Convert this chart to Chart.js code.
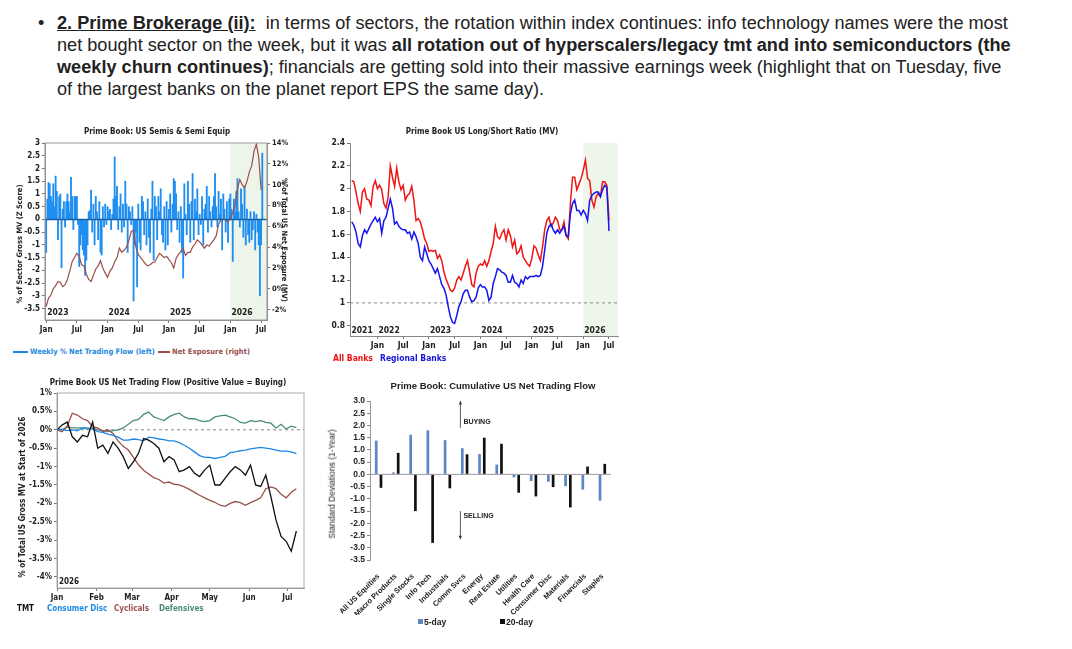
<!DOCTYPE html>
<html><head><meta charset="utf-8">
<script src="https://cdn.jsdelivr.net/npm/chart.js@4.4.1/dist/chart.umd.min.js"></script>
<style>
body{margin:0;background:#fff;width:1072px;height:649px;position:relative;overflow:hidden;font-family:'Liberation Sans',Arial,sans-serif;}
.para{position:absolute;left:38px;top:12px;font-size:18.15px;line-height:22px;color:#222;white-space:nowrap;}
.bullet{position:absolute;left:0;top:0;}
.txt{position:absolute;left:19px;top:0;}
canvas{position:absolute;display:block;}
.t{position:absolute;white-space:nowrap;line-height:1;font-family:'Liberation Sans Narrow','DejaVu Sans Condensed',Roboto,sans-serif;font-weight:bold;color:#222;font-size:8px;}
.ctr{transform:translate(-50%,-50%);}
.rl{transform:translate(-50%,-50%) rotate(-90deg);}
.rr{transform:translate(-50%,-50%) rotate(90deg);}
.lm{transform:translateY(-50%);}
.ln{position:absolute;height:2px;}
.sq{position:absolute;width:5px;height:5px;}
.ar{font-family:'Liberation Sans',Arial,sans-serif;}
</style>
</head><body>

<div class="para"><span class="bullet">•</span><div class="txt"><b><u>2. Prime Brokerage (ii):</u></b>&nbsp; in terms of sectors, the rotation within index continues: info technology names were the most<br>net bought sector on the week, but it was <b>all rotation out of hyperscalers/legacy tmt and into semiconductors (the<br>weekly churn continues)</b>; financials are getting sold into their massive earnings week (highlight that on Tuesday, five<br>of the largest banks on the planet report EPS the same day).</div></div>

<!-- chart 1 -->
<canvas id="c1" width="300" height="205" style="left:0;top:135px"></canvas>
<div class="t ctr" style="left:157px;top:132px">Prime Book: US Semis &amp; Semi Equip</div>
<div class="t rl" style="left:20px;top:244px;font-size:7.5px">% of Sector Gross MV (Z Score)</div>
<div class="t rr" style="left:284px;top:240px;font-size:7.5px">% of Total US Net Exposure (MV)</div>
<div class="ln" style="left:13px;top:351px;width:15px;background:#1e88e5"></div>
<div class="t lm" style="left:30px;top:352px;color:#1e88e5;font-size:7.5px">Weekly % Net Trading Flow (left)</div>
<div class="ln" style="left:158px;top:351px;width:12px;background:#9b4f4a"></div>
<div class="t lm" style="left:172px;top:352px;color:#9b4f4a;font-size:7.5px">Net Exposure (right)</div>

<!-- chart 2 -->
<canvas id="c2" width="300" height="220" style="left:320px;top:135px"></canvas>
<div class="t ctr" style="left:482px;top:132px">Prime Book US Long/Short Ratio (MV)</div>
<div class="t lm" style="left:333px;top:358px;color:#ee1111;font-size:8.5px">All Banks</div>
<div class="t lm" style="left:380px;top:358px;color:#1515dd;font-size:8.5px">Regional Banks</div>

<!-- chart 3 -->
<canvas id="c3" width="310" height="220" style="left:0;top:385px"></canvas>
<div class="t ctr" style="left:168px;top:383px">Prime Book US Net Trading Flow (Positive Value = Buying)</div>
<div class="t rl" style="left:23px;top:497px">% of Total US Gross MV at Start of 2026</div>
<div class="t lm" style="left:17px;top:609px;color:#111">TMT</div>
<div class="t lm" style="left:47px;top:609px;color:#1e88e5">Consumer Disc</div>
<div class="t lm" style="left:114px;top:609px;color:#9b4f4a">Cyclicals</div>
<div class="t lm" style="left:159px;top:609px;color:#4a8c7a">Defensives</div>

<!-- chart 4 -->
<canvas id="c4" width="300" height="222" style="left:320px;top:393px"></canvas>
<div class="t ctr ar" style="left:493px;top:386px;font-size:9.5px">Prime Book: Cumulative US Net Trading Flow</div>
<div class="t rl ar" style="left:332px;top:484px;font-size:8.5px;font-weight:normal">Standard Deviations (1-Year)</div>
<div class="sq" style="left:418px;top:619px;background:#5b87c5"></div>
<div class="t lm ar" style="left:424px;top:622px;font-size:8.5px">5-day</div>
<div class="sq" style="left:500px;top:619px;background:#111"></div>
<div class="t lm ar" style="left:506px;top:622px;font-size:8.5px">20-day</div>

<script>
// ---------- DATA ----------
// Chart 1: weekly, week 0 = first week of Jan 2023
const semiFlow = [
-1.3,0.8,1.45,1.4,0.9,0.7,1.4,0.5,1.7,1.1,-0.8,0.9,1.0,
-1.9,0.4,0.7,-0.3,0.7,1.0,0.7,0.3,1.65,0.9,-0.4,0.9,0.9,
0.9,-0.2,-1.85,-1.0,-0.6,-1.2,-1.4,-2.2,-1.6,-1.0,0.3,0.35,1.15,
-0.5,0.6,-1.0,0.9,0.3,-0.8,0.7,-1.3,-1.4,0.5,-0.3,0.6,-0.2,
0.5,0.3,0.4,-0.4,0.2,0.8,2.45,0.9,1.3,-0.4,0.5,1.0,-0.5,
0.6,-0.3,1.5,0.6,-1.3,0.5,0.3,-0.2,0.5,-3.2,-1.0,-0.5,-2.65,
0.6,-0.9,-1.2,0.9,0.7,-0.6,0.3,-1.0,0.8,-0.7,-1.3,0.4,1.5,
-1.6,0.9,0.5,-0.8,0.9,0.3,1.2,-0.6,-0.9,0.5,-1.2,0.7,-1.0,
0.4,1.0,-0.5,0.6,1.6,1.5,1.0,-0.4,0.3,-0.9,0.5,-1.3,-2.3,
1.4,0.2,-0.6,1.5,0.6,-0.9,0.7,1.8,-0.8,0.8,0.3,1.2,-0.6,
0.2,-0.2,0.9,-1.0,0.4,0.6,1.3,-0.5,0.9,0.3,-0.3,0.5,0.9,
1.8,0.5,-0.3,1.1,0.2,0.8,-1.2,1.0,0.4,-0.5,0.7,-0.9,0.8,
1.0,0.4,-1.65,0.8,0.3,1.1,1.6,0.3,-0.3,1.2,0.6,-0.7,1.3,
-1.0,0.4,-0.6,-0.9,0.3,-0.8,-0.4,0.3,-1.2,0.2,-0.5,-1.0,-3.0,-1.0,2.6];
// every 2 weeks
const semiExposure = [
-1.7,-0.9,-0.6,0.0,0.3,0.7,0.6,0.2,0.4,0.9,
1.7,2.6,3.0,3.4,3.1,2.3,2.2,1.4,0.9,0.7,
1.3,1.9,2.2,2.7,2.0,1.5,1.1,1.7,2.0,2.6,
3.0,3.9,3.5,3.7,4.0,4.6,5.5,5.6,4.0,3.3,
3.0,2.7,2.4,2.2,2.3,2.5,2.6,3.0,3.4,3.2,
3.0,3.1,2.8,2.5,2.0,2.9,3.3,3.6,3.9,3.2,
3.5,3.5,4.0,4.3,4.7,4.5,4.2,3.9,4.2,4.1,
4.4,4.7,5.1,6.2,6.6,6.7,6.6,6.4,6.8,7.3,
8.0,9.6,10.5,10.0,9.7,10.3,11.2,11.8,13.2,13.9,
12.6,9.5];
const c1TickWeeks = [0,26,52,78,104,130,156,182];
const c1TickLabels = ['Jan','Jul','Jan','Jul','Jan','Jul','Jan','Jul'];
const c1Years = ['2023','2024','2025','2026'];
const c1YearWeeks = [0,52,104,156];
const c1LeftTicks = [3,2.5,2,1.5,1,0.5,0,-0.5,-1,-1.5,-2,-2.5,-3,-3.5];
const c1RightTicks = [14,12,10,8,6,4,2,0,-2];

// Chart 2: half-month steps starting month 6 (Jul 2021), month 0 = Jan 2021
const allBanks = [
2.07,2.06,1.97,1.87,1.80,1.97,2.00,1.91,1.90,1.85,
2.02,2.07,2.00,2.03,1.99,1.87,1.83,1.93,2.20,2.10,
2.02,2.18,2.06,1.99,2.03,1.90,1.94,1.96,2.02,1.90,
1.72,1.74,1.71,1.64,1.56,1.52,1.45,1.46,1.45,1.46,
1.39,1.42,1.37,1.27,1.21,1.16,1.11,1.10,1.13,1.20,
1.23,1.20,1.26,1.32,1.37,1.27,1.16,1.14,1.26,1.32,
1.34,1.33,1.37,1.32,1.37,1.45,1.52,1.67,1.58,1.56,
1.61,1.64,1.55,1.64,1.59,1.49,1.55,1.43,1.45,1.50,
1.40,1.37,1.34,1.32,1.39,1.50,1.48,1.42,1.37,1.49,
1.64,1.72,1.75,1.67,1.70,1.75,1.72,1.64,1.64,1.71,
1.59,1.56,1.87,2.10,2.10,1.99,2.04,2.09,2.16,2.25,
2.09,2.07,1.90,1.84,1.93,1.96,1.93,2.06,2.06,2.03,
1.72];
const regionalBanks = [
1.71,1.68,1.62,1.52,1.49,1.59,1.64,1.61,1.65,1.69,
1.72,1.75,1.71,1.74,1.61,1.72,1.75,1.83,1.91,1.83,
1.69,1.71,1.67,1.65,1.64,1.64,1.61,1.62,1.56,1.62,
1.58,1.52,1.40,1.37,1.49,1.43,1.37,1.34,1.30,1.26,
1.30,1.23,1.16,1.13,1.07,0.97,0.88,0.83,0.82,0.89,
0.97,1.01,1.08,1.11,1.11,1.05,1.01,1.02,1.05,1.13,
1.16,1.14,1.14,1.11,1.02,1.05,1.17,1.23,1.30,1.29,
1.27,1.26,1.24,1.18,1.18,1.24,1.18,1.17,1.14,1.20,
1.17,1.23,1.21,1.23,1.23,1.23,1.24,1.23,1.24,1.32,
1.46,1.61,1.67,1.69,1.64,1.61,1.64,1.61,1.64,1.67,
1.59,1.58,1.78,1.87,1.90,1.81,1.81,1.77,1.81,1.78,
1.72,1.90,1.94,1.96,1.97,1.97,1.93,1.99,2.03,2.01,
1.63];
const c2TickMonths = [12,18,24,30,36,42,48,54,60,66];
const c2TickLabels = ['Jan','Jul','Jan','Jul','Jan','Jul','Jan','Jul','Jan','Jul'];
const c2Years = ['2021','2022','2023','2024','2025','2026'];
const c2YearMonths = [5.7,12,24,36,48,60];
const c2YTicks = [2.4,2.2,2,1.8,1.6,1.4,1.2,1,0.8];

// Chart 3: every 4 days from Jan 1 2026
const tmt = [0.0,0.13,0.21,-0.19,-0.33,-0.15,-0.19,0.21,-0.5,-0.42,
-0.64,-0.33,-0.5,-0.73,-1.05,-0.87,-0.64,-0.24,-0.28,-0.37,
-0.5,-0.87,-0.73,-0.82,-1.14,-1.09,-1.0,-1.18,-1.27,-1.09,
-0.96,-1.5,-1.5,-1.32,-1.14,-1.0,-1.09,-1.23,-0.96,-1.5,
-1.54,-1.23,-1.82,-2.45,-2.9,-3.03,-3.3,-2.75];
const consumerDisc = [0.0,0.02,-0.02,0.0,-0.03,0.05,0.05,0.02,-0.05,-0.07,
-0.12,-0.15,-0.2,-0.28,-0.28,-0.25,-0.27,-0.3,-0.2,-0.22,
-0.25,-0.27,-0.3,-0.3,-0.35,-0.42,-0.5,-0.6,-0.7,-0.75,
-0.75,-0.78,-0.75,-0.72,-0.62,-0.6,-0.57,-0.55,-0.52,-0.5,
-0.48,-0.5,-0.52,-0.55,-0.58,-0.58,-0.6,-0.65];
const cyclicals = [0.0,-0.05,0.1,0.45,0.4,0.3,0.25,0.08,0.05,-0.05,
0.0,-0.1,-0.3,-0.45,-0.55,-0.75,-0.95,-1.1,-1.2,-1.3,
-1.35,-1.45,-1.42,-1.48,-1.5,-1.55,-1.62,-1.7,-1.78,-1.85,
-1.92,-1.97,-2.05,-2.08,-2.0,-1.95,-1.98,-2.05,-1.98,-1.92,
-1.85,-1.6,-1.55,-1.6,-1.75,-1.85,-1.7,-1.6];
const defensives = [0.0,0.0,0.08,0.05,0.05,0.05,0.02,0.05,0.0,-0.02,
-0.05,-0.02,0.0,0.05,0.15,0.25,0.28,0.42,0.48,0.35,
0.3,0.25,0.35,0.42,0.45,0.35,0.3,0.3,0.25,0.22,
0.25,0.35,0.38,0.4,0.35,0.3,0.2,0.18,0.25,0.22,
0.25,0.2,0.18,0.05,0.15,0.02,0.1,0.06];
const c3TickDays = [0,31,59,90,120,151,181];
const c3TickLabels = ['Jan','Feb','Mar','Apr','May','Jun','Jul'];
const c3YTicks = [1,0.5,0,-0.5,-1,-1.5,-2,-2.5,-3,-3.5,-4];

// Chart 4
const sectors = ['All US Equities','Macro Products','Single Stocks','Info Tech','Industrials','Comm Svcs','Energy','Real Estate','Utilities','Health Care','Consumer Disc','Materials','Financials','Staples'];
const fiveDay = [1.38,0.08,1.62,1.8,1.4,1.07,0.83,0.4,-0.12,-0.27,-0.3,-0.48,-0.62,-1.07];
const twentyDay = [-0.55,0.88,-1.5,-2.8,-0.57,0.82,1.5,1.25,-0.75,-0.9,-0.52,-1.35,0.32,0.43];
const c4YTicks = [3,2.5,2,1.5,1,0.5,0,-0.5,-1,-1.5,-2,-2.5,-3,-3.5];

// ---------- SETUP ----------
Chart.defaults.animation = false;
Chart.defaults.plugins.legend.display = false;
Chart.defaults.plugins.tooltip.enabled = false;
Chart.defaults.color = '#222';
const NARROW = "'Liberation Sans Narrow','DejaVu Sans Condensed',Roboto,sans-serif";
const ARIAL = "'Liberation Sans',Arial,sans-serif";
const nf = s => ({family:NARROW, size:s, weight:'bold'});
const tg = {drawOnChartArea:false, drawTicks:true, tickLength:3, color:'#777', offset:false};
const bd = {display:true, color:'#888'};

// Chart 1
new Chart(document.getElementById('c1'), {
  type:'bar',
  data:{datasets:[
    {type:'line', data:semiExposure.map((v,i)=>({x:i*2,y:v})), yAxisID:'yR', borderColor:'#9b4f4a', borderWidth:1.2, pointRadius:0, order:0},
    {type:'bar', data:semiFlow.map((v,i)=>({x:i,y:v})), yAxisID:'yL', backgroundColor:'#1f8ef1', barThickness:1.2, order:1}
  ]},
  options:{
    responsive:false,
    layout:{padding:{top:8,left:0,right:0,bottom:0}},
    scales:{
      x:{type:'linear', min:-1, max:187, offset:false, grid:tg, border:bd,
         afterBuildTicks:s=>{s.ticks=c1TickWeeks.map(v=>({value:v}));},
         ticks:{callback:(v,i)=>c1TickLabels[i], autoSkip:false, maxRotation:0, font:nf(8), padding:2},
         afterFit:s=>{s.height=20;}},
      yL:{position:'left', min:-3.95, max:3, grid:tg, border:bd,
         afterBuildTicks:s=>{s.ticks=c1LeftTicks.map(v=>({value:v}));},
         ticks:{callback:v=>String(v), autoSkip:false, font:nf(8), padding:2},
         afterFit:s=>{s.width=45;}},
      yR:{position:'right', min:-3, max:14, grid:tg, border:bd,
         afterBuildTicks:s=>{s.ticks=c1RightTicks.map(v=>({value:v}));},
         ticks:{callback:v=>v+'%', autoSkip:false, font:nf(7.5), padding:2},
         afterFit:s=>{s.width=33;}}
    }
  },
  plugins:[{id:'c1p',
    beforeDatasetsDraw(c){const {ctx,chartArea:a,scales:{x}}=c; const x0=x.getPixelForValue(156);
      ctx.save(); ctx.fillStyle='#edf5ea'; ctx.fillRect(x0,a.top,a.right-x0,a.bottom-a.top); ctx.restore();},
    afterDatasetsDraw(c){const {ctx,chartArea:a,scales:{x,yL}}=c;
      ctx.save();
      const y0=yL.getPixelForValue(0); ctx.strokeStyle='#1a5fa8'; ctx.lineWidth=1.5;
      ctx.beginPath(); ctx.moveTo(a.left,y0); ctx.lineTo(a.right,y0); ctx.stroke();
      ctx.strokeStyle='#999'; ctx.lineWidth=1; ctx.strokeRect(a.left,a.top,a.right-a.left,a.bottom-a.top);
      ctx.fillStyle='#222'; ctx.font='bold 8.5px '+NARROW; ctx.textBaseline='middle'; ctx.textAlign='left';
      c1Years.forEach((t,i)=>ctx.fillText(t, x.getPixelForValue(c1YearWeeks[i])+1, a.bottom-7));
      ctx.restore();}
  }]
});

// Chart 2
new Chart(document.getElementById('c2'), {
  type:'line',
  data:{datasets:[
    {data:regionalBanks.map((v,i)=>({x:6+i*0.5,y:v})), borderColor:'#1515ee', borderWidth:1.5, pointRadius:0},
    {data:allBanks.map((v,i)=>({x:6+i*0.5,y:v})), borderColor:'#f01515', borderWidth:1.5, pointRadius:0}
  ]},
  options:{
    responsive:false,
    layout:{padding:{top:8,left:0,right:2,bottom:0}},
    scales:{
      x:{type:'linear', min:5.6, max:68.1, grid:tg, border:bd,
         afterBuildTicks:s=>{s.ticks=c2TickMonths.map(v=>({value:v}));},
         ticks:{callback:(v,i)=>c2TickLabels[i], autoSkip:false, maxRotation:0, font:nf(8.5), padding:2},
         afterFit:s=>{s.height=19;}},
      y:{min:0.71, max:2.4, grid:tg, border:bd,
         afterBuildTicks:s=>{s.ticks=c2YTicks.map(v=>({value:v}));},
         ticks:{callback:v=>String(v), autoSkip:false, font:nf(8.5), padding:2},
         afterFit:s=>{s.width=30;}}
    }
  },
  plugins:[{id:'c2p',
    beforeDatasetsDraw(c){const {ctx,chartArea:a,scales:{x,y}}=c; const x0=x.getPixelForValue(60);
      ctx.save(); ctx.fillStyle='#eef6ec'; ctx.fillRect(x0,a.top,a.right-x0,a.bottom-a.top);
      const y1=y.getPixelForValue(1); ctx.strokeStyle='#888'; ctx.setLineDash([3,3]); ctx.lineWidth=1;
      ctx.beginPath(); ctx.moveTo(a.left,y1); ctx.lineTo(a.right,y1); ctx.stroke(); ctx.restore();},
    afterDatasetsDraw(c){const {ctx,chartArea:a,scales:{x}}=c;
      ctx.save(); ctx.fillStyle='#222'; ctx.font='bold 8.5px '+NARROW; ctx.textBaseline='middle'; ctx.textAlign='left';
      c2Years.forEach((t,i)=>ctx.fillText(t, x.getPixelForValue(c2YearMonths[i])+1, a.bottom-5)); ctx.restore();}
  }]
});

// Chart 3
const c3set = (arr,col)=>({data:arr.map((v,i)=>({x:i*4,y:v})), borderColor:col, borderWidth:1.3, pointRadius:0});
new Chart(document.getElementById('c3'), {
  type:'line',
  data:{datasets:[
    c3set(tmt,'#111'), c3set(consumerDisc,'#1e88e5'), c3set(cyclicals,'#9b4f4a'), c3set(defensives,'#4a8c7a')
  ]},
  options:{
    responsive:false,
    layout:{padding:{top:8,left:0,right:6,bottom:0}},
    scales:{
      x:{type:'linear', min:0, max:194, grid:tg, border:bd,
         afterBuildTicks:s=>{s.ticks=c3TickDays.map(v=>({value:v}));},
         ticks:{callback:(v,i)=>c3TickLabels[i], autoSkip:false, maxRotation:0, font:nf(8), padding:2},
         afterFit:s=>{s.height=17;}},
      y:{min:-4.3, max:1, grid:tg, border:bd,
         afterBuildTicks:s=>{s.ticks=c3YTicks.map(v=>({value:v}));},
         ticks:{callback:v=>v+'%', autoSkip:false, font:nf(8), padding:2},
         afterFit:s=>{s.width=57;}}
    }
  },
  plugins:[{id:'c3p',
    beforeDatasetsDraw(c){const {ctx,chartArea:a,scales:{y}}=c; const y0=y.getPixelForValue(0);
      ctx.save(); ctx.strokeStyle='#888'; ctx.setLineDash([3,3]); ctx.lineWidth=1;
      ctx.beginPath(); ctx.moveTo(a.left,y0); ctx.lineTo(a.right,y0); ctx.stroke(); ctx.restore();},
    afterDatasetsDraw(c){const {ctx,chartArea:a}=c;
      ctx.save(); ctx.strokeStyle='#aaa'; ctx.lineWidth=1; ctx.strokeRect(a.left,a.top,a.right-a.left,a.bottom-a.top);
      ctx.fillStyle='#222'; ctx.font='bold 8px '+NARROW; ctx.textBaseline='middle'; ctx.textAlign='left';
      ctx.fillText('2026', a.left+2, a.bottom-6); ctx.restore();}
  }]
});

// Chart 4
new Chart(document.getElementById('c4'), {
  type:'bar',
  data:{labels:sectors, datasets:[
    {label:'5-day', data:fiveDay, backgroundColor:'#5b87c5', barPercentage:0.57, categoryPercentage:0.55},
    {label:'20-day', data:twentyDay, backgroundColor:'#111', barPercentage:0.57, categoryPercentage:0.55}
  ]},
  options:{
    responsive:false,
    layout:{padding:{top:8,left:0,right:9,bottom:0}},
    scales:{
      x:{grid:{display:false}, border:{display:false},
         ticks:{minRotation:45, maxRotation:45, autoSkip:false, font:{family:ARIAL,size:7.5,weight:'bold'}, padding:4},
         afterFit:s=>{s.height=55;}},
      y:{min:-3.5, max:3, grid:{drawOnChartArea:false, drawTicks:true, tickLength:3, color:'#888'}, border:{display:true,color:'#999'},
         afterBuildTicks:s=>{s.ticks=c4YTicks.map(v=>({value:v}));},
         ticks:{autoSkip:false, callback:v=>v.toFixed(1), font:{family:ARIAL,size:8.5,weight:'bold'}, padding:2},
         afterFit:s=>{s.width=50;}}
    }
  },
  plugins:[{id:'c4p',
    afterDatasetsDraw(c){const {ctx,chartArea:a,scales:{x,y}}=c;
      ctx.save();
      const y0=y.getPixelForValue(0); ctx.strokeStyle='#999'; ctx.lineWidth=1;
      ctx.beginPath(); ctx.moveTo(a.left,y0); ctx.lineTo(a.right,y0); ctx.stroke();
      const ax=x.getPixelForValue(4)+(x.getPixelForValue(5)-x.getPixelForValue(4))*0.75;
      const arrow=(yFrom,yTo)=>{const p1=y.getPixelForValue(yFrom),p2=y.getPixelForValue(yTo);
        ctx.strokeStyle='#333'; ctx.fillStyle='#333'; ctx.lineWidth=0.8;
        ctx.beginPath(); ctx.moveTo(ax,p1); ctx.lineTo(ax,p2); ctx.stroke();
        const d=p2<p1?1:-1; ctx.beginPath(); ctx.moveTo(ax,p2); ctx.lineTo(ax-1.6,p2+d*3.5); ctx.lineTo(ax+1.6,p2+d*3.5); ctx.closePath(); ctx.fill();};
      arrow(1.9,3.0); arrow(-1.5,-2.65);
      ctx.fillStyle='#222'; ctx.font='bold 7px '+ARIAL; ctx.textBaseline='middle'; ctx.textAlign='left';
      ctx.fillText('BUYING', ax+3, y.getPixelForValue(2.15));
      ctx.fillText('SELLING', ax+3, y.getPixelForValue(-1.7));
      ctx.restore();}
  }]
});
</script>
</body></html>
